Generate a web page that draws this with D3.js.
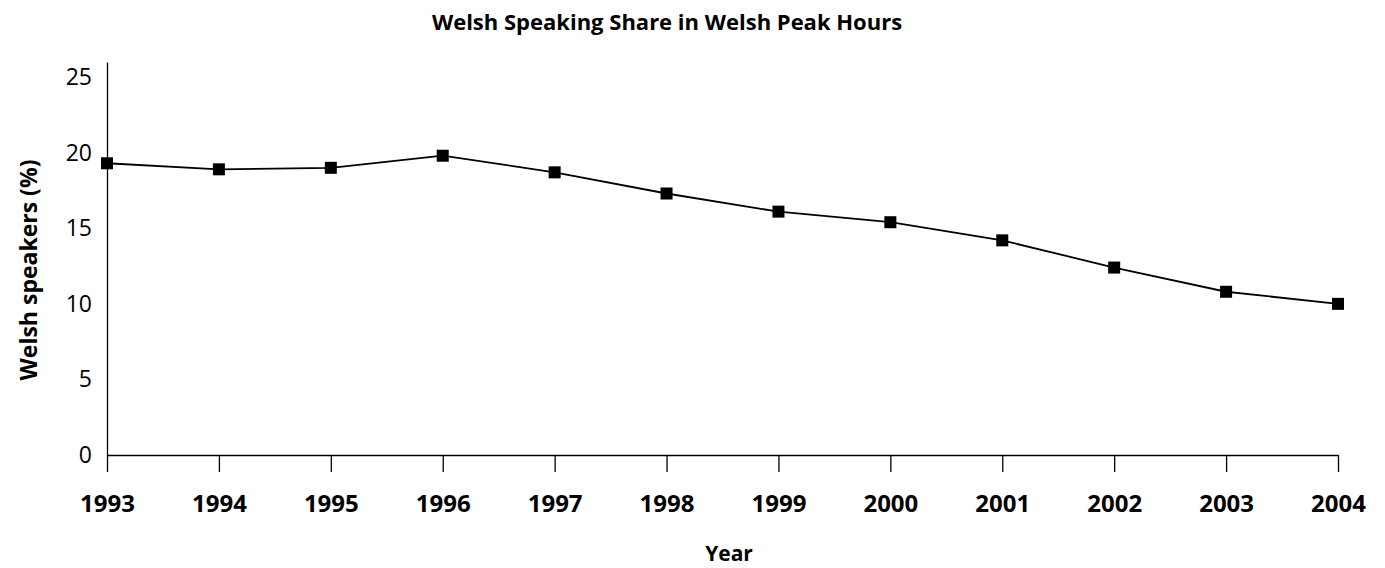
<!DOCTYPE html>
<html lang="en">
<head>
    <meta charset="UTF-8">
    <title>Welsh Speaking Share</title>
    <style>
        body { margin: 0; padding: 0; background: #fff; }
        text { font-family: "Open Sans", "Noto Sans", sans-serif; fill: #000; }
    </style>
</head>
<body>
    <script src="https://d3js.org/d3.v7.min.js"></script>
    <script>
        // data
        const years = ['1993', '1994', '1995', '1996', '1997', '1998', '1999', '2000', '2001', '2002', '2003', '2004']
        const share = [19.3, 18.9, 19.0, 19.8, 18.7, 17.3, 16.1, 15.4, 14.2, 12.4, 10.8, 10.0]
        const yTicks = [0, 5, 10, 15, 20, 25]

        const width = 1385, height = 568
        const margin = { left: 107, right: 47, top: 62, bottom: 113 }

        const svg = d3.select('body').append('svg')
            .attr('width', width)
            .attr('height', height)

        const x = d3.scalePoint().domain(years).range([margin.left, width - margin.right])
        const y = d3.scaleLinear().domain([0, 26]).range([height - margin.bottom, margin.top])

        // x axis
        const xAxis = svg.append('g')
            .attr('transform', `translate(0,${height - margin.bottom})`)
            .call(d3.axisBottom(x).tickSize(17).tickSizeOuter(0).tickPadding(23))
        xAxis.select('.domain').attr('stroke', '#000').attr('stroke-width', 1.3)
        xAxis.selectAll('.tick line').attr('stroke', '#000').attr('stroke-width', 1.3)
        xAxis.selectAll('text')
            .attr('font-size', 24)
            .attr('font-weight', 'bold')
            .attr('font-family', '"Open Sans", "Noto Sans", sans-serif')
            .attr('fill', '#000')

        // y axis
        const yAxis = svg.append('g')
            .attr('transform', `translate(${margin.left},0)`)
            .call(d3.axisLeft(y).tickValues(yTicks).tickSize(0).tickPadding(15))
        yAxis.select('.domain').attr('stroke', '#000').attr('stroke-width', 1.3)
        yAxis.selectAll('text')
            .attr('font-size', 23)
            .attr('font-family', '"Open Sans", "Noto Sans", sans-serif')
            .attr('fill', '#000')

        // line
        const line = d3.line()
            .x((d, i) => x(years[i]))
            .y(d => y(d))

        svg.append('path')
            .datum(share)
            .attr('fill', 'none')
            .attr('stroke', '#000')
            .attr('stroke-width', 1.8)
            .attr('d', line)

        // square markers
        svg.selectAll('rect.pt')
            .data(share)
            .enter()
            .append('rect')
            .attr('class', 'pt')
            .attr('x', (d, i) => x(years[i]) - 6)
            .attr('y', d => y(d) - 6)
            .attr('width', 12)
            .attr('height', 12)
            .attr('fill', '#000')

        // titles
        svg.append('text')
            .attr('x', 667)
            .attr('y', 30)
            .attr('text-anchor', 'middle')
            .attr('font-size', 22)
            .attr('font-weight', 'bold')
            .text('Welsh Speaking Share in Welsh Peak Hours')

        svg.append('text')
            .attr('x', 729)
            .attr('y', 561)
            .attr('text-anchor', 'middle')
            .attr('font-size', 21)
            .attr('font-weight', 'bold')
            .text('Year')

        svg.append('text')
            .attr('transform', `translate(37,270) rotate(-90)`)
            .attr('text-anchor', 'middle')
            .attr('font-size', 23)
            .attr('font-weight', 'bold')
            .text('Welsh speakers (%)')
    </script>
</body>
</html>
